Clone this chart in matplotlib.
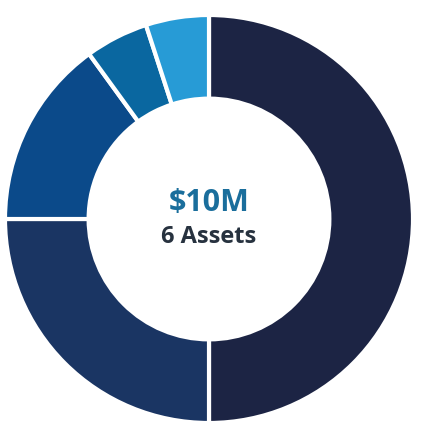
import matplotlib
matplotlib.use("Agg")
import matplotlib.pyplot as plt

# share of each asset, clockwise from 12 o'clock
shares = [50, 25, 15, 5, 5]
colors = ["#1c2444", "#1a3563", "#0b4a8a", "#0a67a0", "#279bd6"]
total_label = "$10M"
count_label = "6 Assets"

fig = plt.figure(figsize=(4.24, 4.36), dpi=100)
ax = fig.add_axes([5 / 424, 13 / 436, 408 / 424, 408 / 436])

ax.pie(shares, colors=colors, startangle=90, counterclock=False, radius=1,
       wedgeprops=dict(width=0.41, edgecolor="white", linewidth=3))
ax.set_xlim(-1, 1)
ax.set_ylim(-1, 1)
ax.set_aspect("equal")
ax.axis("off")

ax.text(0, 0.08, total_label, ha="center", va="center", fontsize=22,
        fontweight="bold", color="#1a6e9c", family="Open Sans")
ax.text(0, -0.09, count_label, ha="center", va="center", fontsize=17,
        fontweight="bold", color="#27323f", family="Open Sans")

fig.savefig("out.png", dpi=100)
